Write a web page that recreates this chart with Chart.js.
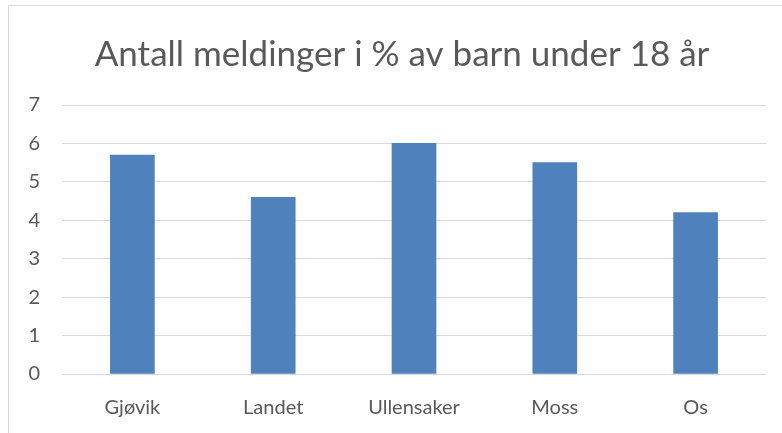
<!DOCTYPE html>
<html>
<head>
<meta charset="utf-8">
<script src="https://cdn.jsdelivr.net/npm/chart.js@4/dist/chart.umd.min.js"></script>
<style>
    body { margin: 0; background: #fff; overflow: hidden; }
    #ramme { position: absolute; left: 8px; top: 5px; width: 800px; height: 450px; border: 1px solid #d9d9d9; pointer-events: none; }
    #boks { position: absolute; left: 0; top: 0; width: 804px; height: 433px; }
</style>
</head>
<body>
<div id="boks"><canvas id="grafKommuner" width="804" height="433"></canvas></div>
<div id="ramme"></div>
<script>
    // data lest av bildet
    var kommuner = ['Gjøvik', 'Landet', 'Ullensaker', 'Moss', 'Os'];
    var meldinger = [5.7, 4.6, 6.0, 5.5, 4.2];
    var tittel = 'Antall meldinger i % av barn under 18 år';

    var grafData = {
        labels: kommuner,
        datasets: [{
            label: 'Meldinger',
            backgroundColor: 'rgb(79,129,189)',
            borderColor: 'rgb(79,129,189)',
            data: meldinger,
            barThickness: 44,
        }]
    };

    var config = {
        type: 'bar',
        data: grafData,
        options: {
            responsive: false,
            animation: false,
            layout: { padding: 0 },
            plugins: {
                legend: { display: false },
                tooltip: { enabled: false },
                title: {
                    display: true,
                    text: tittel,
                    color: '#595959',
                    font: { family: 'Lato', size: 35, weight: 'normal' },
                    padding: { top: 34, bottom: 29 }
                }
            },
            scales: {
                x: {
                    afterFit: function (skala) { skala.height = 59; },
                    grid: { display: false },
                    border: { display: false },
                    ticks: { color: '#595959', font: { family: 'Lato', size: 20 }, padding: 14 }
                },
                y: {
                    min: 0,
                    max: 7,
                    afterFit: function (skala) { skala.width = 62; },
                    grid: { color: '#d9d9d9', lineWidth: 1, drawTicks: false },
                    border: { display: false },
                    ticks: { stepSize: 1, color: '#595959', font: { family: 'Lato', size: 20 }, padding: 22 }
                },
                // tom akse til høyre, bare for luft
                hoyre: {
                    position: 'right',
                    min: 0,
                    max: 7,
                    afterFit: function (skala) { skala.width = 38; },
                    grid: { display: false },
                    border: { display: false },
                    ticks: { display: false }
                }
            }
        }
    };

    var myChart = new Chart(document.getElementById('grafKommuner'), config);
</script>
</body>
</html>
